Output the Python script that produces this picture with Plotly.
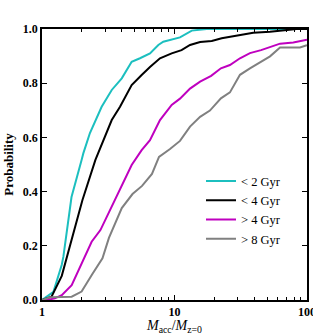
import plotly.graph_objects as go

# <2 Gyr
x_lt2 = [1.0, 1.15, 1.22, 1.41, 1.45, 1.67, 1.83, 1.99, 2.05, 2.30, 2.82, 3.36, 4.0, 4.75, 5.49, 6.53, 7.55, 8.23, 11.0, 13.5, 17.5, 30.0, 60.0, 100.0]
p_lt2 = [0.0, 0.022, 0.03, 0.13, 0.16, 0.38, 0.457, 0.517, 0.541, 0.616, 0.713, 0.775, 0.818, 0.879, 0.892, 0.910, 0.941, 0.953, 0.969, 0.994, 1.0, 1.0, 1.0, 1.0]

# <4 Gyr
x_lt4 = [1.0, 1.18, 1.41, 1.63, 2.02, 2.53, 2.74, 3.36, 3.88, 4.75, 5.65, 6.53, 7.77, 9.52, 11.3, 13.1, 15.6, 19.1, 22.7, 27.0, 32.1, 39.3, 52.6, 70.3, 83.6, 100.0]
p_lt4 = [0.0, 0.012, 0.089, 0.203, 0.369, 0.517, 0.56, 0.664, 0.713, 0.793, 0.830, 0.86, 0.892, 0.910, 0.922, 0.941, 0.952, 0.956, 0.966, 0.972, 0.980, 0.986, 0.990, 0.996, 1.0, 1.0]

# >4 Gyr
x_gt4 = [1.0, 1.085, 1.25, 1.41, 1.675, 1.99, 2.30, 2.37, 2.76, 3.26, 4.0, 4.75, 5.65, 6.53, 7.77, 9.52, 11.0, 13.1, 15.6, 18.9, 22.4, 26.2, 31.2, 37.1, 45.0, 52.6, 62.6, 78.8, 98.3, 100.0]
p_gt4 = [0.0, 0.0, 0.006, 0.018, 0.055, 0.135, 0.197, 0.215, 0.258, 0.332, 0.424, 0.498, 0.553, 0.590, 0.664, 0.720, 0.743, 0.780, 0.806, 0.827, 0.855, 0.867, 0.892, 0.911, 0.922, 0.934, 0.946, 0.950, 0.958, 0.96]

# >8 Gyr
x_gt8 = [1.0, 1.15, 1.675, 1.99, 2.40, 2.86, 3.20, 4.0, 4.82, 5.69, 6.76, 7.64, 9.25, 11.0, 13.1, 15.6, 18.5, 22.4, 26.2, 31.2, 37.1, 44.2, 52.6, 62.6, 88.5, 98.3, 100.0]
p_gt8 = [0.0, 0.010, 0.012, 0.031, 0.096, 0.154, 0.229, 0.339, 0.391, 0.421, 0.465, 0.528, 0.557, 0.587, 0.640, 0.676, 0.699, 0.744, 0.766, 0.831, 0.855, 0.878, 0.899, 0.932, 0.932, 0.939, 0.94]

labels = ["< 2 Gyr", "< 4 Gyr", "> 4 Gyr", "> 8 Gyr"]
colors = ["#1CBFBF", "#000000", "#BF00BF", "#808080"]

y_ticks = [0.0, 0.2, 0.4, 0.6, 0.8, 1.0]
y_ticklabels = ["0.0", "0.2", "0.4", "0.6", "0.8", "1.0"]
x_ticks = [1, 10, 100]
x_ticklabels = ["1", "10", "100"]

fig = go.Figure()
for xs, ps, lab, col in zip([x_lt2, x_lt4, x_gt4, x_gt8], [p_lt2, p_lt4, p_gt4, p_gt8], labels, colors):
    fig.add_trace(go.Scatter(x=xs, y=ps, mode="lines", name=lab,
                             line=dict(color=col, width=2)))

serif = "Liberation Serif, Times New Roman, serif"
axis_common = dict(showgrid=False, zeroline=False, showline=True, linecolor="black",
                   linewidth=1.5, mirror="allticks", ticks="inside", tickcolor="black",
                   tickwidth=1, ticklen=5, automargin=False,
                   tickfont=dict(family=serif, size=12, color="black", weight="bold"))

fig.update_xaxes(type="log", range=[0, 2], tickvals=x_ticks, ticktext=x_ticklabels,
                 ticklabeloverflow="allow",
                 minor=dict(ticks="inside", ticklen=3, tickcolor="black", tickwidth=1,
                            tickvals=[2, 3, 4, 5, 6, 7, 8, 9, 20, 30, 40, 50, 60, 70, 80, 90]),
                 title=dict(text="<i>M</i><sub>acc</sub>/<i>M</i><sub>z=0</sub>",
                            font=dict(family=serif, size=14, color="black"), standoff=0),
                 **axis_common)
fig.update_yaxes(range=[0, 1], tickvals=y_ticks, ticktext=y_ticklabels,
                 title=dict(text="<b>Probability</b>",
                            font=dict(family=serif, size=13, color="black"), standoff=6),
                 **axis_common)

fig.update_layout(
    width=313, height=335,
    margin=dict(l=42, r=6, t=29, b=35),
    plot_bgcolor="white", paper_bgcolor="white",
    showlegend=True,
    legend=dict(x=0.600, y=0.493, xanchor="left", yanchor="top",
                bgcolor="rgba(0,0,0,0)", borderwidth=0,
                font=dict(family=serif, size=12.5, color="black"),
                itemwidth=30, tracegroupgap=0),
)

fig.write_html("out.html", config={"displayModeBar": False},
               post_script="document.body.style.margin='0px';document.body.style.overflow='hidden';")
